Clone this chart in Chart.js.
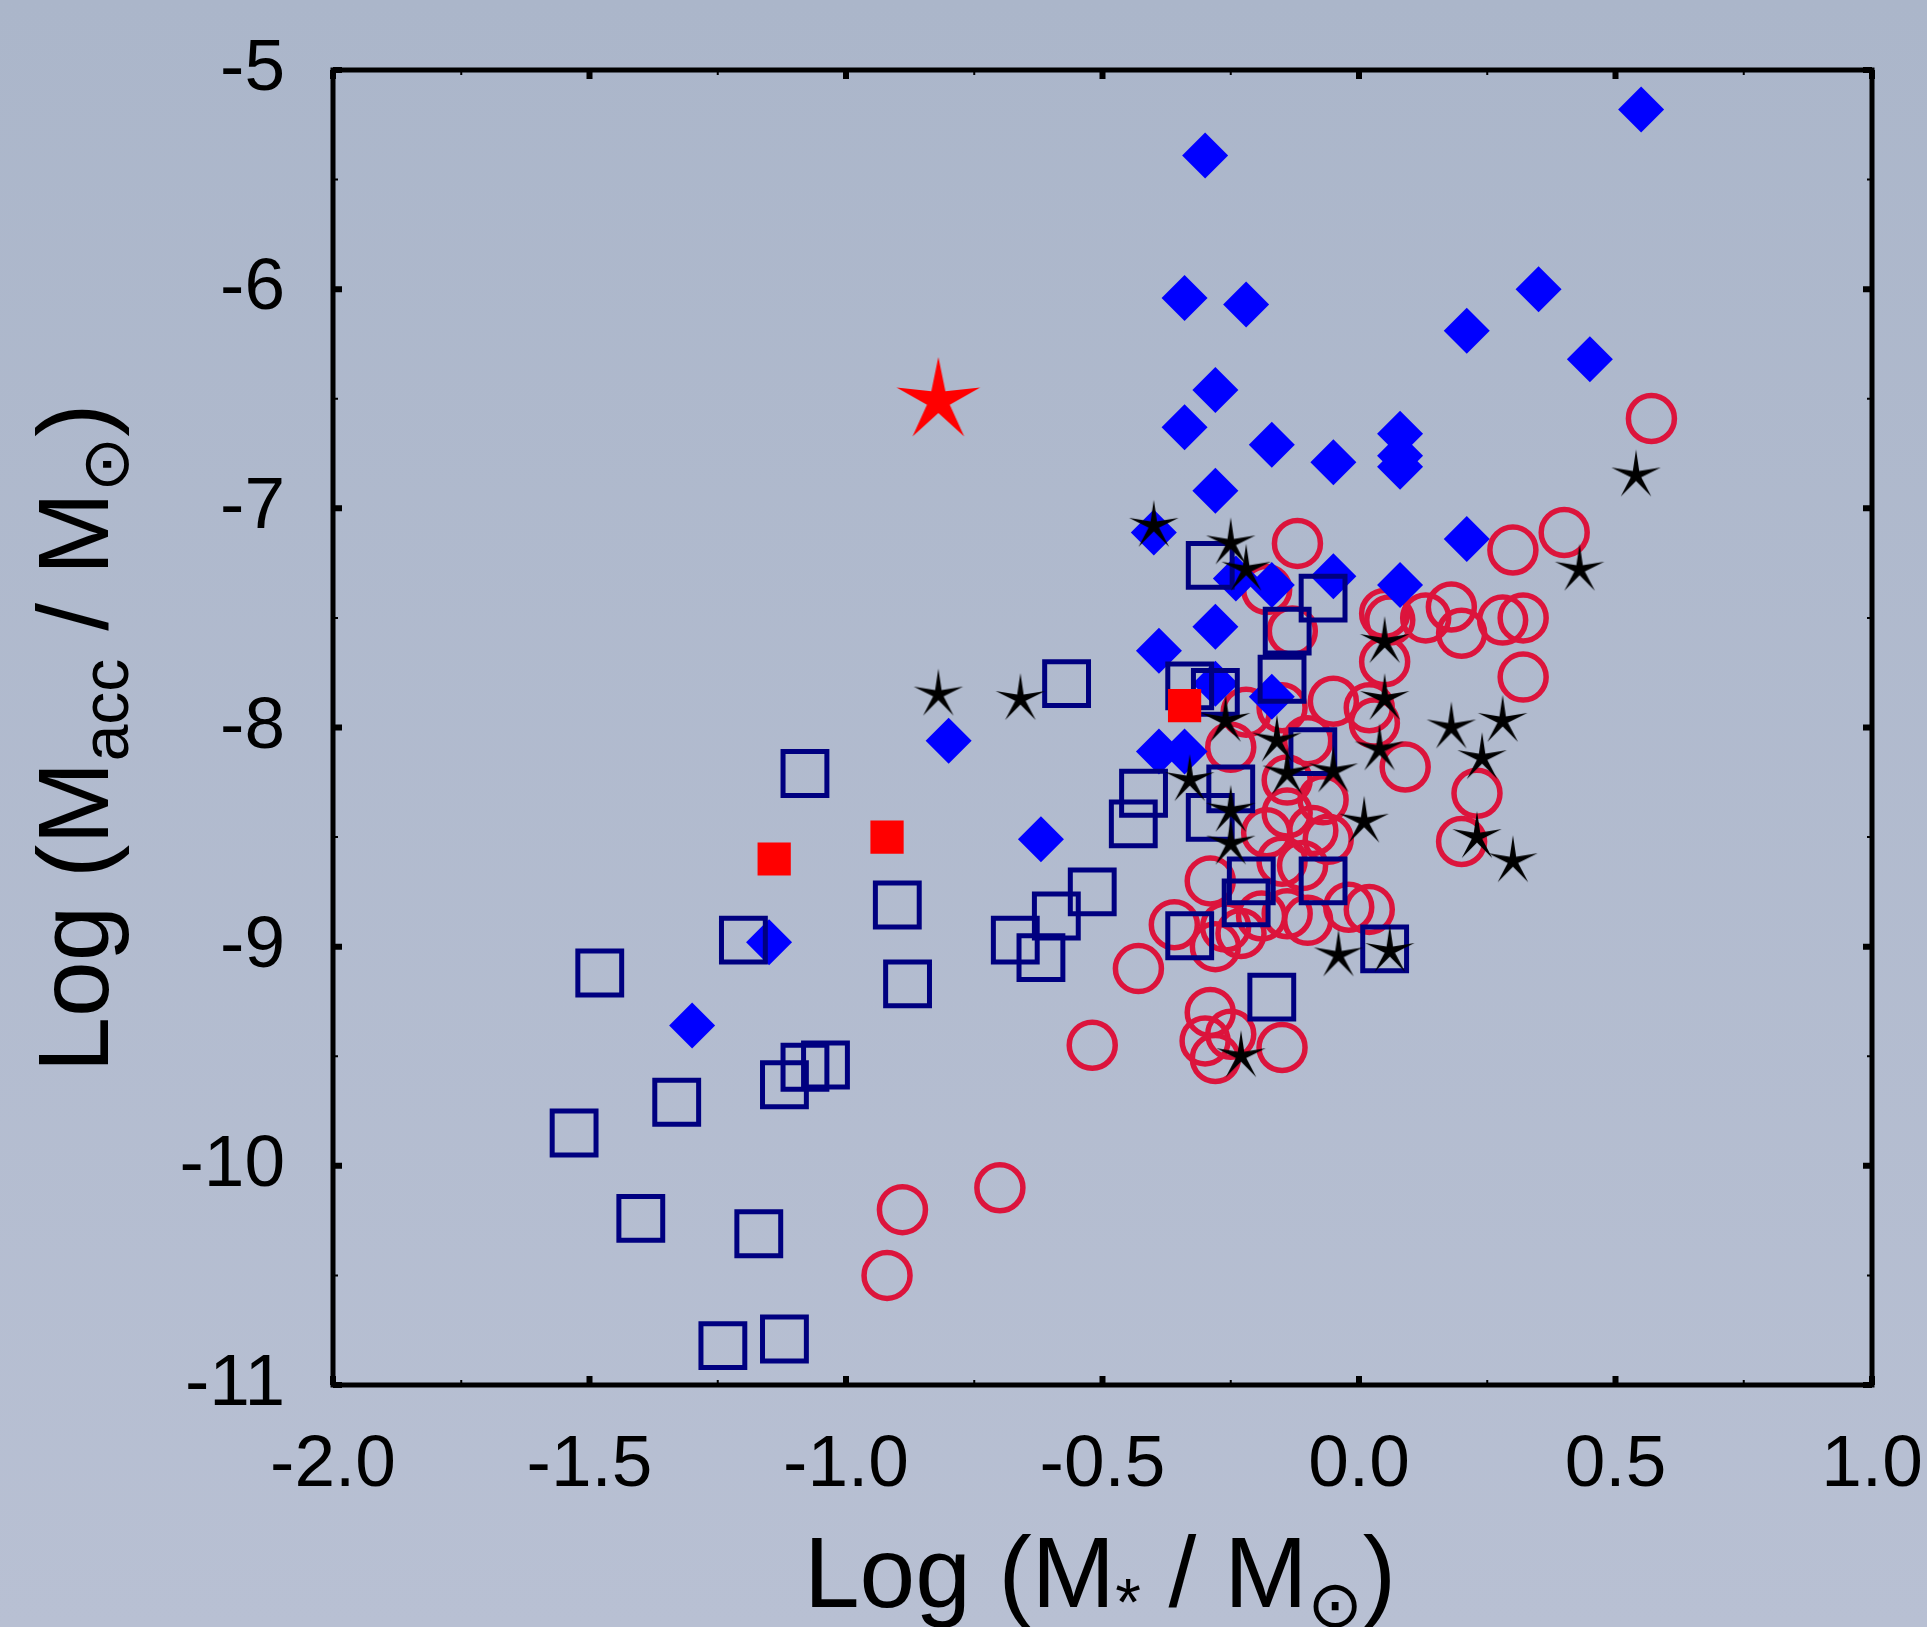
<!DOCTYPE html>
<html>
<head>
<meta charset="utf-8">
<script src="https://cdn.jsdelivr.net/npm/chart.js"></script>
<style>
  html, body { margin: 0; padding: 0; }
  body { width: 1927px; height: 1627px; overflow: hidden;
         background: linear-gradient(to bottom, #abb6ca, #b8c0d3); }
  canvas { display: block; }
</style>
</head>
<body>
<canvas id="chart" width="1927" height="1627"></canvas>
<script>
// axis ticks
const xTicks = [-2.0, -1.5, -1.0, -0.5, 0.0, 0.5, 1.0];
const yTicks = [-5, -6, -7, -8, -9, -10, -11];
const xMinorTicks = [-1.75, -1.25, -0.75, -0.25, 0.25, 0.75];
const yMinorTicks = [-5.5, -6.5, -7.5, -8.5, -9.5, -10.5];

// filled blue diamonds
const diamondX = [0.55, -0.30, -0.34, -0.22, 0.35, 0.21, 0.45, -0.28, -0.34, -0.17, -0.05, 0.08, 0.08, 0.08,
  -0.28, -0.40, 0.21, -0.24, -0.17, -0.05, 0.08, -0.28, -0.39, -0.28, -0.17, -0.39, -0.34, -0.80, -0.62, -1.15, -1.30];
const diamondY = [-5.18, -5.39, -6.04, -6.07, -6.00, -6.19, -6.32, -6.46, -6.63, -6.71, -6.79, -6.66, -6.76, -6.81,
  -6.92, -7.11, -7.14, -7.32, -7.35, -7.31, -7.35, -7.54, -7.65, -7.80, -7.86, -8.11, -8.11, -8.06, -8.51, -8.98, -9.36];

// open navy squares
const squareX = [-0.29, -0.07, -0.14, -0.33, -0.28, -0.15, -0.57, -0.09, -0.42, -0.25, -0.44, -0.29, -0.21, -0.22,
  -0.07, -0.33, -0.17, -0.52, -0.59, -0.67, -0.62, 0.05, -0.90, -0.88, -1.08, -1.20, -1.48, -1.08, -1.04, -1.12,
  -1.33, -1.53, -1.40, -1.17, -1.24, -1.12];
const squareY = [-7.26, -7.41, -7.56, -7.81, -7.84, -7.78, -7.80, -8.11, -8.30, -8.28, -8.44, -8.41, -8.70, -8.80,
  -8.70, -8.95, -9.23, -8.75, -8.86, -8.97, -9.05, -9.01, -8.81, -9.17, -8.21, -8.97, -9.12, -9.55, -9.54, -9.63,
  -9.71, -9.85, -10.24, -10.31, -10.82, -10.79];

// open crimson circles
const circleX = [0.57, 0.40, 0.30, -0.12, -0.18, 0.05, 0.06, 0.13, 0.18, 0.20, 0.28, 0.32, 0.32, 0.05, 0.09, 0.23,
  0.20, 0.02, -0.43, -0.52, -0.29, -0.30, -0.25, -0.28, -0.15, -0.36, -0.29, -0.28, -0.89, -0.70, -0.92,
  -0.13, -0.22, -0.15, -0.05, 0.02, -0.25, 0.03, -0.14, -0.09, -0.06, -0.18, -0.15, -0.11, -0.02, -0.19, -0.14,
  -0.23, -0.26, -0.10, -0.10, -0.07, -0.14];
const circleY = [-6.59, -7.11, -7.19, -7.16, -7.37, -7.48, -7.51, -7.50, -7.45, -7.57, -7.51, -7.50, -7.77, -7.70,
  -8.18, -8.30, -8.52, -8.83, -9.10, -9.45, -9.30, -9.43, -9.40, -9.51, -9.46, -8.90, -8.70, -9.00, -10.20, -10.10,
  -10.50, -7.56, -7.93, -7.91, -7.88, -7.91, -8.09, -7.98, -8.39, -8.47, -8.51, -8.48, -8.61, -8.63, -8.82, -8.86,
  -8.85, -8.94, -8.91, -8.88, -8.06, -8.33, -8.24];

// black stars
const starX = [-0.40, -0.25, -0.22, -0.82, -0.66, -0.26, -0.16, -0.14, -0.05, -0.33, -0.25, -0.25, 0.01, -0.04,
  0.06, -0.23, 0.05, 0.05, 0.04, 0.18, 0.28, 0.24, 0.23, 0.30, 0.43, 0.54];
const starY = [-7.08, -7.16, -7.28, -7.85, -7.87, -7.97, -8.06, -8.21, -8.20, -8.24, -8.38, -8.53, -8.43, -9.04,
  -9.02, -9.50, -7.61, -7.87, -8.10, -8.00, -7.97, -8.14, -8.50, -8.61, -7.28, -6.85];

// red filled squares and the big red star
const redSquareX = [-1.14, -0.92, -0.34];
const redSquareY = [-8.60, -8.50, -7.90];
const redStarX = [-0.82];
const redStarY = [-6.51];

const FONT = '"Liberation Sans", Arial, "DejaVu Sans", sans-serif';

function pairs(xs, ys) {
  return xs.map((x, i) => ({ x: x, y: ys[i] }));
}

// 5-pointed star marker drawn on a small canvas
function makeStar(outer, inner, color) {
  const size = Math.ceil(outer * 2 + 4);
  const c = document.createElement('canvas');
  c.width = size;
  c.height = size;
  const g = c.getContext('2d');
  g.translate(size / 2, size / 2);
  g.beginPath();
  for (let i = 0; i < 10; i++) {
    const r = i % 2 ? inner : outer;
    const a = -Math.PI / 2 + i * Math.PI / 5;
    g.lineTo(r * Math.cos(a), r * Math.sin(a));
  }
  g.closePath();
  g.fillStyle = color;
  g.fill();
  return c;
}

const blackStar = makeStar(26, 5.5, '#000000');
const bigRedStar = makeStar(44, 12, '#ff0000');

// frame, inward ticks and the axis titles
const framePlugin = {
  id: 'frame',
  afterDraw(chart) {
    const ctx = chart.ctx;
    const a = chart.chartArea;
    const xs = chart.scales.x, ys = chart.scales.y;
    ctx.save();
    ctx.strokeStyle = '#000';

    function ticks(list, len, width) {
      ctx.lineWidth = width;
      ctx.beginPath();
      list.x.forEach(v => {
        const px = xs.getPixelForValue(v);
        ctx.moveTo(px, a.bottom); ctx.lineTo(px, a.bottom - len);
        ctx.moveTo(px, a.top); ctx.lineTo(px, a.top + len);
      });
      list.y.forEach(v => {
        const py = ys.getPixelForValue(v);
        ctx.moveTo(a.left, py); ctx.lineTo(a.left + len, py);
        ctx.moveTo(a.right, py); ctx.lineTo(a.right - len, py);
      });
      ctx.stroke();
    }
    ticks({ x: xTicks, y: yTicks }, 9, 6);
    ticks({ x: xMinorTicks, y: yMinorTicks }, 5, 2);

    ctx.lineWidth = 5;
    ctx.lineJoin = 'miter';
    ctx.strokeRect(a.left, a.top, a.right - a.left, a.bottom - a.top);

    ctx.fillStyle = '#000';
    ctx.textBaseline = 'alphabetic';
    ctx.textAlign = 'left';

    function rich(parts, size) {
      let w = 0;
      parts.forEach(p => {
        ctx.font = (size * p.s) + 'px ' + FONT;
        p.w = ctx.measureText(p.t).width;
        w += p.w;
      });
      let u = -w / 2;
      parts.forEach(p => {
        ctx.font = (size * p.s) + 'px ' + FONT;
        ctx.fillText(p.t, u, p.dy);
        u += p.w;
      });
    }

    // y title
    ctx.save();
    ctx.translate(108, 738);
    ctx.rotate(-Math.PI / 2);
    rich([
      { t: 'Log (M', s: 1, dy: 0 },
      { t: 'acc', s: 0.66, dy: 20 },
      { t: ' / M', s: 1, dy: 0 },
      { t: '\u2299', s: 0.66, dy: 20 },
      { t: ')', s: 1, dy: 0 }
    ], 100);
    ctx.restore();

    // x title
    ctx.save();
    ctx.translate(1100, 1607);
    rich([
      { t: 'Log (M', s: 1, dy: 0 },
      { t: '*', s: 0.66, dy: 18 },
      { t: ' / M', s: 1, dy: 0 },
      { t: '\u2299', s: 0.66, dy: 20 },
      { t: ')', s: 1, dy: 0 }
    ], 100);
    ctx.restore();

    ctx.restore();
  }
};

new Chart(document.getElementById('chart'), {
  type: 'scatter',
  data: {
    datasets: [
      {
        data: pairs(redStarX, redStarY),
        pointStyle: bigRedStar,
        pointRadius: 44
      },
      {
        data: pairs(redSquareX, redSquareY),
        pointStyle: 'rect',
        pointRadius: 23.5,
        backgroundColor: '#ff0000',
        borderWidth: 0
      },
      {
        data: pairs(starX, starY),
        pointStyle: blackStar,
        pointRadius: 26
      },
      {
        data: pairs(squareX, squareY),
        pointStyle: 'rect',
        pointRadius: 31,
        backgroundColor: 'rgba(0,0,0,0)',
        borderColor: '#000080',
        borderWidth: 5
      },
      {
        data: pairs(diamondX, diamondY),
        pointStyle: 'rectRot',
        pointRadius: 23,
        backgroundColor: '#0000ff',
        borderWidth: 0
      },
      {
        data: pairs(circleX, circleY),
        pointStyle: 'circle',
        pointRadius: 23,
        backgroundColor: 'rgba(0,0,0,0)',
        borderColor: '#dc143c',
        borderWidth: 5.5
      }
    ]
  },
  options: {
    responsive: false,
    animation: false,
    events: [],
    layout: { padding: { left: 0, top: 70, right: 55, bottom: 0 } },
    plugins: { legend: { display: false }, tooltip: { enabled: false } },
    scales: {
      x: {
        type: 'linear',
        min: -2,
        max: 1,
        grid: { display: false, drawTicks: false },
        border: { display: false },
        afterBuildTicks: s => { s.ticks = xTicks.map(v => ({ value: v })); },
        afterFit: s => { s.height = 242; s.paddingLeft = 0; s.paddingRight = 0; },
        ticks: {
          autoSkip: false,
          maxRotation: 0,
          padding: 37,
          color: '#000',
          font: { family: FONT, size: 73 },
          callback: v => Number(v).toFixed(1)
        }
      },
      y: {
        type: 'linear',
        min: -11,
        max: -5,
        grid: { display: false, drawTicks: false },
        border: { display: false },
        afterBuildTicks: s => { s.ticks = yTicks.map(v => ({ value: v })); },
        afterFit: s => { s.width = 333; s.paddingTop = 0; s.paddingBottom = 0; },
        ticks: {
          autoSkip: false,
          padding: 48,
          color: '#000',
          font: { family: FONT, size: 73 },
          callback: v => String(v)
        }
      }
    }
  },
  plugins: [framePlugin]
});
</script>
</body>
</html>
